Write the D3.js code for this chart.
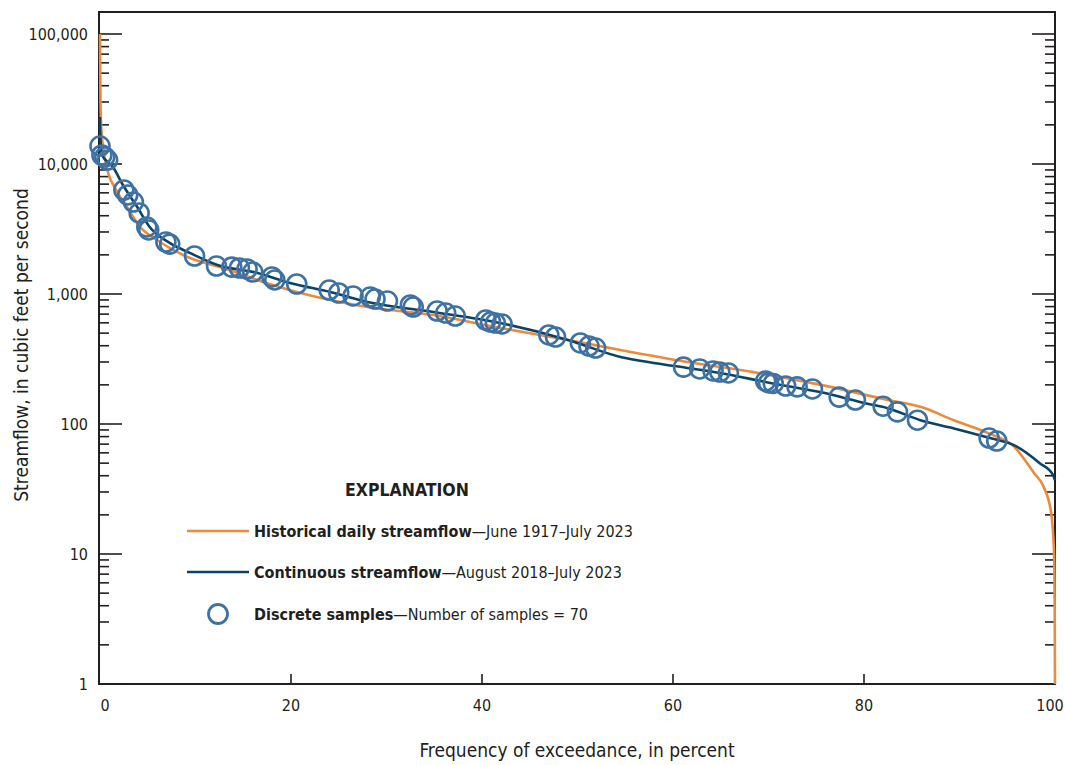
<!DOCTYPE html>
<html>
<head>
<meta charset="utf-8">
<script src="https://cdn.jsdelivr.net/npm/d3@7"></script>
<style>
  body { margin: 0; background: #fff; }
  svg { display: block; }
  text { font-family: "Liberation Sans Narrow", "DejaVu Sans Condensed", "Arial Narrow", sans-serif; fill: #231f20; }
</style>
</head>
<body>
<svg id="chart" width="1065" height="765"></svg>
<script>
// historical daily streamflow duration curve, June 1917 - July 2023
const histPct = [0, 0.05, 0.15, 0.73, 1.57, 2.83, 4.19, 5.97, 9.43, 12.9, 17.1, 20.6, 24.1, 28.0, 34.9, 41.9, 49.0, 54.5, 61.5, 68.4, 75.5, 82.5, 86.0, 89.4, 93.0, 95.7, 97.8, 98.8, 99.6, 99.9, 99.97, 100];
const histFlow = [100000, 30000, 18000, 9310, 6540, 4670, 3280, 2600, 1890, 1585, 1237, 1036, 899, 794, 689, 548, 443, 371, 300, 251, 200, 153, 135, 107, 85, 67, 42, 33, 20.7, 10.2, 3.5, 1];

// continuous streamflow, August 2018 - July 2023
const contPct = [0, 0.02, 0.2, 1.36, 2.4, 3.9, 5.2, 7.3, 9.4, 12.3, 16.5, 19.9, 24.1, 28.0, 34.9, 41.9, 49.0, 54.5, 58.0, 61.5, 64.9, 70.2, 75.4, 80.6, 82.4, 85.9, 89.3, 92.9, 96.0, 98.4, 99.8, 100];
const contFlow = [23000, 18270, 11730, 9480, 6890, 4670, 3280, 2470, 2070, 1670, 1450, 1215, 1036, 868, 727, 598, 443, 328, 295, 270, 247, 207, 176, 142, 133, 107, 93, 79, 67, 50, 40.5, 37];

// discrete samples
const samplePct = [0.0, 0.2, 0.5, 0.8, 2.5, 2.9, 3.5, 4.1, 4.9, 5.1, 6.9, 7.3, 9.9, 12.2, 13.8, 14.6, 15.4, 16.0, 18.0, 18.3, 20.6, 24.0, 25.0, 26.5, 28.3, 28.8, 30.1, 32.5, 32.8, 35.3, 36.2, 37.2, 40.4, 40.9, 41.4, 42.1, 47.0, 47.7, 50.3, 51.2, 51.9, 61.1, 62.8, 64.2, 64.9, 65.8, 69.7, 70.0, 70.5, 71.8, 73.0, 74.6, 77.4, 79.1, 82.0, 83.5, 85.6, 93.1, 93.9];
const sampleFlow = [13750, 11730, 11320, 10730, 6310, 5780, 5100, 4200, 3280, 3110, 2510, 2420, 1960, 1640, 1610, 1585, 1557, 1476, 1352, 1282, 1194, 1073, 1018, 966, 948, 915, 883, 823, 794, 740, 714, 677, 631, 609, 598, 588, 484, 467, 420, 398, 384, 274, 265, 256, 251, 247, 214, 207, 205, 196, 193, 186, 161, 153, 137, 124, 107, 78, 74];

const xTicks = [0, 20, 40, 60, 80, 100];
const yMajor = [1, 10, 100, 1000, 10000, 100000];

const svg = d3.select("#chart");
const ink = "#231f20";
const orange = "#ef8a3b";
const navy = "#0b4368";
const steel = "#3e72a5";

const frameL = 99, frameR = 1055, frameT = 12, frameB = 684;

const x = d3.scaleLinear().domain([0, 100]).range([100, 1055]);
const y = d3.scaleLog().domain([1, 100000]).range([684, 34]);

// minor ticks 2..9 per decade
const yMinor = [];
yMajor.slice(0, -1).forEach(d => { for (let k = 2; k <= 9; k++) yMinor.push(d * k); });

const g = svg.append("g");

// frame first so the curves sit on top of it
g.append("rect").attr("x", frameL).attr("y", frameT)
  .attr("width", frameR - frameL).attr("height", frameB - frameT)
  .attr("fill", "none").attr("stroke", ink).attr("stroke-width", 2);

// y ticks, both sides, pointing inward
[[frameL, 1], [frameR, -1]].forEach(([x0, dir]) => {
  g.selectAll(null).data(yMajor).join("line")
    .attr("x1", x0).attr("x2", x0 + dir * 23)
    .attr("y1", d => y(d)).attr("y2", d => y(d))
    .attr("stroke", ink).attr("stroke-width", 1.6);
  g.selectAll(null).data(yMinor).join("line")
    .attr("x1", x0).attr("x2", x0 + dir * 10)
    .attr("y1", d => y(d)).attr("y2", d => y(d))
    .attr("stroke", ink).attr("stroke-width", 1.6);
});

// x ticks
g.selectAll(null).data(xTicks.slice(1, -1)).join("line")
  .attr("x1", d => x(d)).attr("x2", d => x(d))
  .attr("y1", frameB).attr("y2", frameB - 10)
  .attr("stroke", ink).attr("stroke-width", 1.6);

// y labels
g.selectAll(null).data(yMajor).join("text")
  .attr("x", 88).attr("y", d => y(d)).attr("dy", "0.35em")
  .attr("text-anchor", "end").style("font-size", "16px")
  .text(d => d3.format(",")(d));

// x labels (end labels nudged inside like the original)
g.selectAll(null).data(xTicks).join("text")
  .attr("x", d => x(d) + (d === 0 ? 5 : d === 100 ? -5 : 0))
  .attr("y", 711).attr("text-anchor", "middle").style("font-size", "16px")
  .text(d => d);

// curves
const line = d3.line().curve(d3.curveMonotoneX).x(d => x(d[0])).y(d => y(d[1]));
const hist = histPct.map((p, i) => [p, histFlow[i]]);
const cont = contPct.map((p, i) => [p, contFlow[i]]);

g.append("path").datum(hist).attr("d", line)
  .attr("fill", "none").attr("stroke", orange).attr("stroke-width", 2.6);
g.append("path").datum(cont).attr("d", line)
  .attr("fill", "none").attr("stroke", navy).attr("stroke-width", 2.6);

// samples
g.selectAll("circle.sample").data(samplePct.map((p, i) => [p, sampleFlow[i]])).join("circle")
  .attr("class", "sample")
  .attr("cx", d => x(d[0])).attr("cy", d => y(d[1])).attr("r", 9.5)
  .attr("fill", "none").attr("stroke", steel).attr("stroke-width", 2.6);

// axis titles
svg.append("text").attr("x", 577).attr("y", 757).attr("text-anchor", "middle")
  .style("font-size", "19px").text("Frequency of exceedance, in percent");
svg.append("text").attr("transform", "translate(28,345) rotate(-90)").attr("text-anchor", "middle")
  .style("font-size", "19px").text("Streamflow, in cubic feet per second");

// explanation
const lg = svg.append("g");
lg.append("text").attr("x", 407).attr("y", 496).attr("text-anchor", "middle")
  .style("font-size", "17.5px").style("font-weight", "bold").text("EXPLANATION");

const legendRows = [
  {bold: "Historical daily streamflow", rest: "\u2014June 1917\u2013July 2023", type: "line", color: orange, yy: 531},
  {bold: "Continuous streamflow", rest: "\u2014August 2018\u2013July 2023", type: "line", color: navy, yy: 572},
  {bold: "Discrete samples", rest: "\u2014Number of samples = 70", type: "circle", color: steel, yy: 614}
];
legendRows.forEach(r => {
  if (r.type === "line") {
    lg.append("line").attr("x1", 187).attr("x2", 249).attr("y1", r.yy).attr("y2", r.yy)
      .attr("stroke", r.color).attr("stroke-width", 2.6);
  } else {
    lg.append("circle").attr("cx", 218).attr("cy", r.yy).attr("r", 9.5)
      .attr("fill", "none").attr("stroke", r.color).attr("stroke-width", 2.8);
  }
  const t = lg.append("text").attr("x", 254).attr("y", r.yy).attr("dy", "0.35em").style("font-size", "16px");
  t.append("tspan").style("font-weight", "bold").text(r.bold);
  t.append("tspan").text(r.rest);
});
</script>
</body>
</html>
